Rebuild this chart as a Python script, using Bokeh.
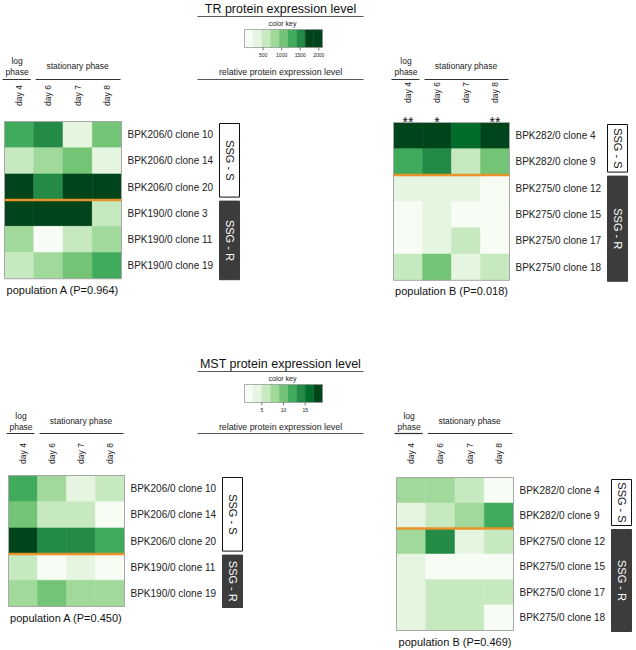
import math
from bokeh.plotting import figure
from bokeh.models import Range1d, ColumnDataSource
from bokeh.transform import linear_cmap
from bokeh.core.properties import value
from bokeh.embed import file_html
from bokeh.resources import INLINE

FONT = "Liberation Sans"

# ---------------- data ----------------
DAYS = ["day 4", "day 6", "day 7", "day 8"]

GREENS = ["#f7fcf5", "#e5f5e0", "#c7e9c0", "#a1d99b", "#74c476",
          "#41ab5d", "#238b45", "#006d2c", "#00441b"]
TR_KEY_COLORS = GREENS[:7] + ["#00441b", "#00441b"]
TR_LOW, TR_HIGH = 0, 2100
TR_TICKS = [500, 1000, 1500, 2000]
MST_LOW, MST_HIGH = 1, 19
MST_TICKS = [5, 10, 15]

# TR protein, population A
TR_A_ROWS = ["BPK206/0 clone 10", "BPK206/0 clone 14", "BPK206/0 clone 20",
             "BPK190/0 clone 3", "BPK190/0 clone 11", "BPK190/0 clone 19"]
TR_A_NS = 3
TR_A_VALS = [
    [1290, 1560, 330, 1040],
    [560, 800, 1080, 370],
    [2010, 1490, 1960, 2050],
    [2040, 2000, 1990, 600],
    [830, 90, 610, 790],
    [580, 840, 1100, 1300],
]
TR_A_LABEL = "population A (P=0.964)"

# TR protein, population B
TR_B_ROWS = ["BPK282/0 clone 4", "BPK282/0 clone 9", "BPK275/0 clone 12",
             "BPK275/0 clone 15", "BPK275/0 clone 17", "BPK275/0 clone 18"]
TR_B_NS = 2
TR_B_VALS = [
    [2060, 2030, 1720, 1980],
    [1270, 1530, 560, 1060],
    [320, 340, 300, 140],
    [120, 290, 150, 110],
    [100, 310, 570, 130],
    [600, 1070, 330, 590],
]
TR_B_STARS = ["**", "*", "", "**"]
TR_B_LABEL = "population B (P=0.018)"

# MST protein, population A
MST_A_ROWS = ["BPK206/0 clone 10", "BPK206/0 clone 14", "BPK206/0 clone 20",
              "BPK190/0 clone 11", "BPK190/0 clone 19"]
MST_A_NS = 3
MST_A_VALS = [
    [12.1, 8.3, 3.9, 5.8],
    [10.2, 6.1, 6.3, 1.8],
    [18.2, 14.3, 13.8, 12.4],
    [5.7, 1.6, 4.2, 2.1],
    [8.1, 9.8, 7.9, 8.2],
]
MST_A_LABEL = "population A (P=0.450)"

# MST protein, population B
MST_B_ROWS = ["BPK282/0 clone 4", "BPK282/0 clone 9", "BPK275/0 clone 12",
              "BPK275/0 clone 15", "BPK275/0 clone 17", "BPK275/0 clone 18"]
MST_B_NS = 2
MST_B_VALS = [
    [8.2, 7.9, 6.2, 2.1],
    [3.8, 5.9, 8.1, 11.9],
    [8.3, 14.6, 4.1, 6.2],
    [4.1, 2.2, 1.9, 2.3],
    [3.9, 6.1, 5.8, 6.3],
    [4.2, 6.0, 5.9, 2.2],
]
MST_B_LABEL = "population B (P=0.469)"

# ---------------- figure ----------------
W, H = 636, 650
p = figure(width=W, height=H, x_range=Range1d(0, W), y_range=Range1d(H, 0),
           output_backend="svg", toolbar_location=None,
           x_axis_type=None, y_axis_type=None, min_border=0)
p.outline_line_color = None
p.background_fill_color = "white"
p.border_fill_color = "white"


def txt(xs, ys, texts, size, align="center", baseline="middle", angle=0.0,
        color="#222222"):
    p.text(x=xs, y=ys, text=texts, text_font=value(FONT),
           text_font_size=value(size), text_align=align,
           text_baseline=baseline, angle=angle, text_color=color)


def hline(x0, x1, y, color="#333333", width=1.2):
    p.segment(x0=[x0], y0=[y], x1=[x1], y1=[y], line_color=color, line_width=width)


def panel(vals, rows, n_s, x0, y0, cw, ch, low, high, label, head, stars=None):
    ncol = len(DAYS)
    nrow = len(rows)
    x1 = x0 + ncol * cw
    y1 = y0 + nrow * ch
    xs, ys, vs = [], [], []
    for i, r in enumerate(vals):
        for j, v in enumerate(r):
            xs.append(x0 + (j + 0.5) * cw)
            ys.append(y0 + (i + 0.5) * ch)
            vs.append(v)
    src = ColumnDataSource(dict(x=xs, y=ys, v=vs))
    cm = linear_cmap("v", GREENS, low, high)
    p.rect("x", "y", width=cw, height=ch, source=src, fill_color=cm,
           line_color=cm, line_width=0.5)
    # frame
    p.rect(x=[(x0 + x1) / 2], y=[(y0 + y1) / 2], width=x1 - x0, height=y1 - y0,
           fill_color=None, line_color="#a8a8a8", line_width=1)
    # group separator
    ysep = y0 + n_s * ch
    p.segment(x0=[x0], y0=[ysep], x1=[x1], y1=[ysep], line_color="#e8922a",
              line_width=2.5)
    # row labels
    txt([x1 + 6] * nrow, [y0 + (i + 0.5) * ch for i in range(nrow)], rows,
        "10px", align="left")
    # SSG boxes
    bx0, bx1 = x1 + 98, x1 + 118
    p.quad(left=[bx0], right=[bx1], top=[y0 + 2], bottom=[ysep - 3],
           fill_color="white", line_color="#111111", line_width=1)
    p.quad(left=[bx0], right=[bx1], top=[ysep + 1], bottom=[y1 + 1],
           fill_color="#3c3c3c", line_color="#3c3c3c", line_width=1)
    txt([(bx0 + bx1) / 2], [(y0 + 2 + ysep - 3) / 2], ["SSG - S"], "11px",
        angle=-math.pi / 2, color="#111111")
    txt([(bx0 + bx1) / 2], [(ysep + 1 + y1 + 1) / 2], ["SSG - R"], "11px",
        angle=-math.pi / 2, color="white")
    # bottom label
    txt([(x0 + x1) / 2], [y1 + 11], [label], "11px", color="#111111")
    # header
    log_y, phase_y, stat_y, line_y, day_y = head
    c0 = x0 + 0.5 * cw
    txt([c0 - 2, c0 - 2], [log_y, phase_y], ["log", "phase"], "8.5px")
    txt([(x0 + cw + x1) / 2], [stat_y], ["stationary phase"], "8.5px")
    hline(x0 - 2, x0 + cw - 3, line_y)
    hline(x0 + cw + 2, x1 - 1, line_y)
    txt([x0 + (j + 0.5) * cw for j in range(ncol)], [day_y] * ncol, DAYS,
        "8.5px", angle=math.pi / 2)
    if stars is not None:
        txt([x0 + (j + 0.5) * cw for j in range(ncol)], [y0 - 1] * ncol, stars,
            "14px", color="#111111")


def key(title, title_y, colors, low, high, ticks):
    lx0, lx1 = 197, 363
    txt([280], [title_y], [title], "12.5px", color="#111111")
    hline(lx0, lx1, title_y + 8, color="#555555", width=1)
    txt([282], [title_y + 15], ["color key"], "7px")
    bx0, bw = 244, 78
    by0, bh = title_y + 21, 18
    n = len(colors)
    step = (high - low) / n

    def px(v):
        return bx0 + (v - low) / (high - low) * bw

    cx = [px(low + (k + 0.5) * step) for k in range(n)]
    p.rect(x=cx, y=[by0 + bh / 2] * n, width=bw / n, height=bh,
           fill_color=colors, line_color=colors, line_width=0.3)
    p.rect(x=[bx0 + bw / 2], y=[by0 + bh / 2], width=bw, height=bh,
           fill_color=None, line_color="#9a9a9a", line_width=0.8)
    tx = [px(t) for t in ticks]
    p.segment(x0=tx, y0=[by0 + bh] * len(ticks), x1=tx,
              y1=[by0 + bh + 3] * len(ticks), line_color="#555555", line_width=0.8)
    txt(tx, [by0 + bh + 7] * len(ticks), [str(t) for t in ticks], "5px")
    return by0 + bh


# ---- TR section ----
key("TR protein expression level", 8, TR_KEY_COLORS, TR_LOW, TR_HIGH, TR_TICKS)
txt([280], [71], ["relative protein expression level"], "8.8px")
hline(197, 363, 79, color="#555555", width=1)

panel(TR_A_VALS, TR_A_ROWS, TR_A_NS, 4, 121, 29.25, 26.2, TR_LOW, TR_HIGH,
      TR_A_LABEL, (60, 71, 65, 79, 95))
panel(TR_B_VALS, TR_B_ROWS, TR_B_NS, 393, 122, 29.0, 26.3, TR_LOW, TR_HIGH,
      TR_B_LABEL, (60, 71, 65, 79, 92), stars=TR_B_STARS)

# ---- MST section ----
key("MST protein expression level", 363, GREENS, MST_LOW, MST_HIGH, MST_TICKS)
txt([280], [426], ["relative protein expression level"], "8.8px")
hline(197, 363, 433, color="#555555", width=1)

panel(MST_A_VALS, MST_A_ROWS, MST_A_NS, 8, 475, 29.0, 26.2, MST_LOW, MST_HIGH,
      MST_A_LABEL, (415, 426, 420, 433, 453))
panel(MST_B_VALS, MST_B_ROWS, MST_B_NS, 396, 477, 29.25, 25.5, MST_LOW, MST_HIGH,
      MST_B_LABEL, (415, 426, 420, 433, 453))

open("out.html", "w").write(file_html(p, INLINE))
